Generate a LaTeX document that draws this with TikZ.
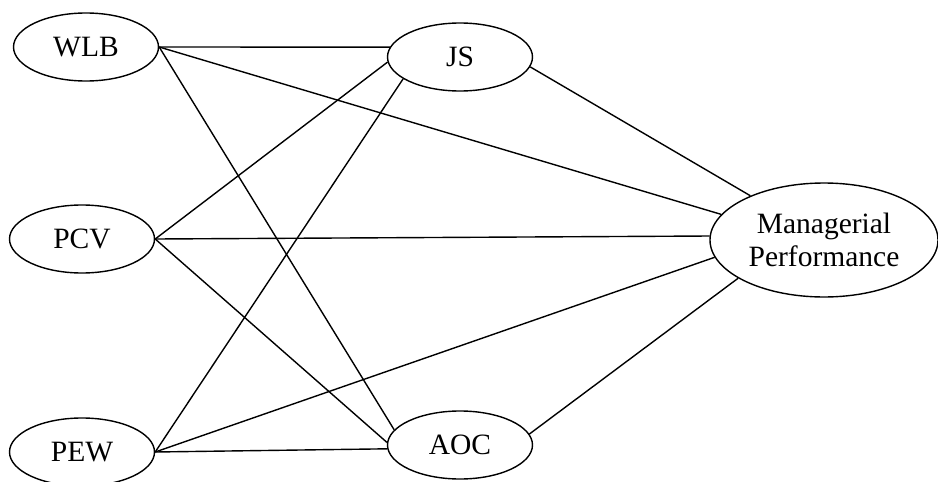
\documentclass[tikz,border=0pt]{standalone}
\usepackage{fontspec}
\setmainfont{Liberation Serif}
\usetikzlibrary{shapes.geometric}
\begin{document}
\begin{tikzpicture}[x=1pt,y=-1pt,
  oval/.style={ellipse,draw,line width=1.4pt,inner sep=0pt,
    minimum width=145pt,minimum height=68pt,align=center,
    font=\fontsize{29.5}{33}\selectfont},
  link/.style={line width=1.4pt}]
  \useasboundingbox (0,0) rectangle (938,482);

  % constructs
  \node[oval] (wlb) at (86,47) {WLB};
  \node[oval] (pcv) at (82,239) {PCV};
  \node[oval] (pew) at (82,452) {PEW};
  \node[oval] (js)  at (460,57) {JS};
  \node[oval] (aoc) at (460,445) {AOC};
  \node[oval,minimum width=228pt,minimum height=114pt] (mp) at (824,240)
    {Managerial\\Performance};

  % paths from the antecedents
  \draw[link] (wlb.east) -- (js.172);
  \draw[link] (wlb.east) -- (mp.166);
  \draw[link] (wlb.east) -- (aoc.167);
  \draw[link] (pcv.east) -- (js.184);
  \draw[link] (pcv.east) -- (mp.178.5);
  \draw[link] (pcv.east) -- (aoc.178);
  \draw[link] (pew.east) -- (js.201);
  \draw[link] (pew.east) -- (mp.189);
  \draw[link] (pew.east) -- (aoc.183);

  % paths from the mediators
  \draw[link] (js.352) -- (mp.149);
  \draw[link] (aoc.9) -- (mp.204);
\end{tikzpicture}
\end{document}
